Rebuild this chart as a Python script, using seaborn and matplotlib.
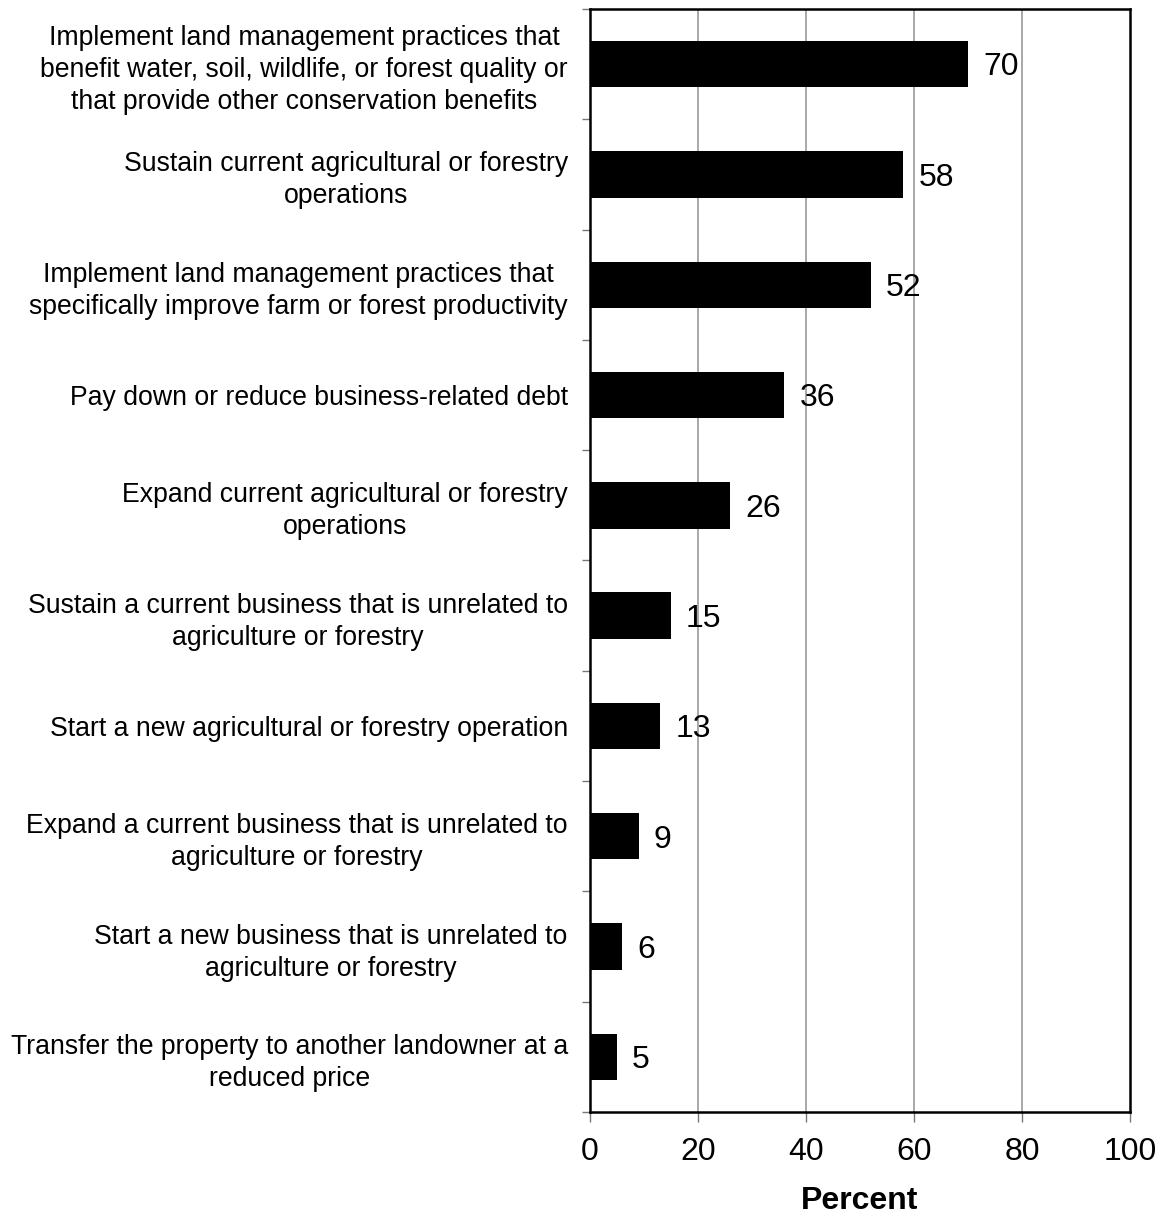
import matplotlib
matplotlib.use("Agg")
import matplotlib.pyplot as plt
from matplotlib.ticker import FixedLocator
import seaborn as sns
import pandas as pd

# Survey responses: intended uses of conservation easement payments
categories = [
    "Implement land management practices that\nbenefit water, soil, wildlife, or forest quality or\nthat provide other conservation benefits",
    "Sustain current agricultural or forestry\noperations",
    "Implement land management practices that\nspecifically improve farm or forest productivity",
    "Pay down or reduce business-related debt",
    "Expand current agricultural or forestry\noperations",
    "Sustain a current business that is unrelated to\nagriculture or forestry",
    "Start a new agricultural or forestry operation",
    "Expand a current business that is unrelated to\nagriculture or forestry",
    "Start a new business that is unrelated to\nagriculture or forestry",
    "Transfer the property to another landowner at a\nreduced price",
]
percent = [70, 58, 52, 36, 26, 15, 13, 9, 6, 5]
x_ticks = [0, 20, 40, 60, 80, 100]

df = pd.DataFrame({"category": categories, "percent": percent})

sns.set_theme(style="white")
plt.rcParams["font.family"] = ["Liberation Sans", "DejaVu Sans"]
plt.rcParams["text.color"] = "black"
plt.rcParams["xtick.color"] = "black"
plt.rcParams["ytick.color"] = "black"

fig = plt.figure(figsize=(11.62, 12.19), dpi=100)
ax = fig.add_axes([590 / 1162, 1 - 1112 / 1219, 540 / 1162, 1103 / 1219])

sns.barplot(data=df, y="category", x="percent", orient="h", color="black",
            width=0.42, saturation=1, ax=ax, linewidth=0)

ax.set_xlim(0, 100)
ax.set_ylim(len(categories) - 0.5, -0.5)
ax.set_xticks(x_ticks)
ax.set_xticklabels([str(t) for t in x_ticks], fontsize=23)
ax.set_xlabel("Percent", fontsize=23, fontweight="bold", labelpad=14, color="black")
ax.set_ylabel("")

# Vertical gridlines
for t in x_ticks[1:-1]:
    ax.axvline(t, color="#999999", linewidth=1.2, zorder=0)

# Category labels centred per line, tick marks at category boundaries
ax.tick_params(axis="y", which="major", length=0, pad=16, labelsize=19.2, labelcolor="black")
for lbl in ax.get_yticklabels():
    lbl.set_multialignment("center")
    lbl.set_linespacing(1.3)
ax.yaxis.set_minor_locator(FixedLocator([i - 0.5 for i in range(len(categories) + 1)]))
ax.tick_params(axis="y", which="minor", left=True, length=6, width=1, color="#777777")
ax.tick_params(axis="x", which="major", bottom=True, length=7, width=1, color="#777777",
               pad=11, labelcolor="black")

for s in ax.spines.values():
    s.set_color("black")
    s.set_linewidth(1.8)
    s.set_visible(True)

# Value labels just beyond the bar ends
for i, v in enumerate(percent):
    ax.text(v + 2.8, i + 0.03, f"{v}", va="center", ha="left", fontsize=23, color="black")

fig.savefig("out.png", dpi=100)
